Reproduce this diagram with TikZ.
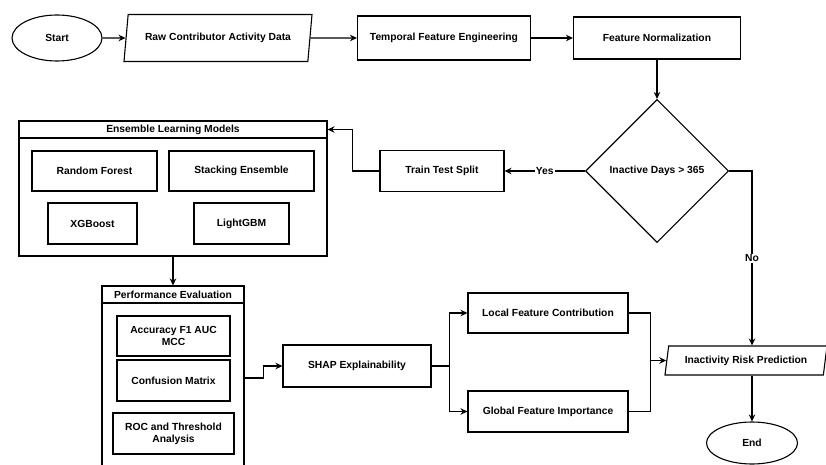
\documentclass[tikz,border=0pt]{standalone}
\usepackage{fontspec}
\setmainfont{Liberation Sans}
\usepackage{tikz}
\usetikzlibrary{arrows.meta, positioning, shapes.geometric}

\tikzset{
    procbox/.style={draw, rectangle, line width=1.1pt, align=center, inner sep=2pt},
    termnode/.style={draw, ellipse, line width=1.1pt, inner sep=0pt},
    databox/.style={draw, trapezium, trapezium stretches body, line width=1.1pt, inner sep=2pt},
    flow/.style={line width=1.1pt, -{Stealth[length=7pt, width=6.5pt]}},
    plain/.style={line width=1.1pt}
}

\begin{document}
\begin{tikzpicture}[x=1pt, y=-1pt, font=\fontsize{10.3}{12}\selectfont\bfseries]
    \useasboundingbox (0,0) rectangle (826,465);

    % Top row
    \node[termnode, minimum width=90pt, minimum height=46pt] (start) at (57,38) {Start};
    \node[databox, trapezium left angle=73, trapezium right angle=107,
          minimum width=188pt, minimum height=47pt] (raw) at (218,38) {Raw Contributor Activity Data};
    \node[procbox, minimum width=173pt, minimum height=44pt] (temporal) at (444,38) {Temporal Feature Engineering};
    \node[procbox, minimum width=167pt, minimum height=42pt] (norm) at (657,38) {Feature Normalization};

    % Decision
    \node[draw, diamond, line width=1.1pt, minimum width=143pt, minimum height=143pt,
          inner sep=0pt, aspect=1] (decision) at (657,171) {Inactive Days > 365};
    \node[procbox, minimum width=124pt, minimum height=41pt] (split) at (442,171) {Train Test Split};

    % Ensemble group
    \node[procbox, minimum width=308pt, minimum height=135pt] (ens) at (173,188.5) {};
    \node[procbox, minimum width=308pt, minimum height=17pt, inner sep=0pt] (enshead) at (173,129.5) {Ensemble Learning Models};
    \node[procbox, minimum width=125pt, minimum height=40pt] (rf) at (94.5,171) {Random Forest};
    \node[procbox, minimum width=145pt, minimum height=40pt] (stack) at (241.5,171) {Stacking Ensemble};
    \node[procbox, minimum width=89pt, minimum height=41pt] (xgb) at (92.5,223.5) {XGBoost};
    \node[procbox, minimum width=95pt, minimum height=41pt] (lgbm) at (241.5,223.5) {LightGBM};

    % Evaluation group
    \node[procbox, minimum width=142pt, minimum height=184pt] (perf) at (173,378) {};
    \node[procbox, minimum width=142pt, minimum height=17pt, inner sep=0pt] (perfhead) at (173,294.5) {Performance Evaluation};
    \node[procbox, minimum width=113pt, minimum height=40pt] (metrics) at (173.5,336) {Accuracy F1 AUC\\MCC};
    \node[procbox, minimum width=113pt, minimum height=41pt] (confusion) at (173.5,380.5) {Confusion Matrix};
    \node[procbox, minimum width=121pt, minimum height=41pt] (roc) at (173.5,433.5) {ROC and Threshold\\Analysis};

    % Explainability
    \node[procbox, minimum width=148pt, minimum height=42pt] (shap) at (357,366) {SHAP Explainability};
    \node[procbox, minimum width=160pt, minimum height=40pt] (local) at (548,313) {Local Feature Contribution};
    \node[procbox, minimum width=160pt, minimum height=41pt] (global) at (548,411.5) {Global Feature Importance};

    % Output
    \node[databox, trapezium left angle=75, trapezium right angle=105,
          minimum width=162pt, minimum height=29pt] (risk) at (746,360.5) {Inactivity Risk Prediction};
    \node[termnode, minimum width=91pt, minimum height=42pt] (end) at (752,443) {End};

    % Connectors
    \draw[flow] (start.east) -- (raw.west);
    \draw[flow] (raw.east) -- (temporal.west);
    \draw[flow] (temporal.east) -- (norm.west);
    \draw[flow] (norm.south) -- (decision.north);
    \draw[flow] (decision.west) -- node[fill=white, inner sep=1pt] {Yes} (split.east);
    \draw[flow] (decision.east) -| node[pos=0.75, fill=white, inner sep=1pt] {No} (end.north |- risk.north);
    \draw[flow] (split.west) -- ++(-27,0) |- (enshead.east);
    \draw[flow] (ens.south) -- (perfhead.north);
    \draw[flow] (perf.east) -- ++(19,0) |- (shap.west);
    \draw[plain] (shap.east) -- ++(18,0) coordinate (fork);
    \draw[flow] (fork) |- (local.west);
    \draw[flow] (fork) |- (global.west);
    \draw[plain] (local.east) -- ++(22,0) coordinate (join) |- (global.east);
    \draw[flow] (join |- risk.west) -- (risk.west);
    \draw[flow] (end.north |- risk.south) -- (end.north);
\end{tikzpicture}
\end{document}
